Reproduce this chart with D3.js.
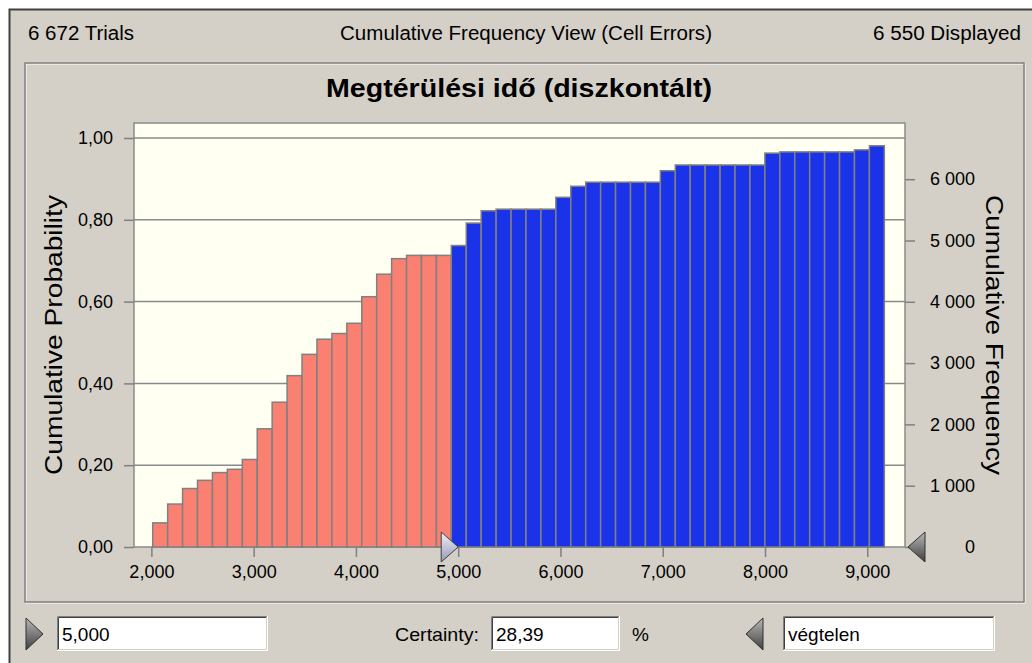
<!DOCTYPE html>
<meta charset="utf-8">
<style>
body { margin: 0; background: #fff; }
svg text { font-family: "Liberation Sans", Arial, sans-serif; fill: #000; }
.narrow { font-family: "Liberation Sans Narrow", "Arial Narrow", "Liberation Sans", sans-serif; font-size: 20px; }
.axis path.domain { display: none; }
.axis line { stroke: #808080; stroke-width: 1.5; }
.axis text { font-size: 18px; }
.bar { stroke: #808080; stroke-width: 1.5; }
.grid { stroke: #8a8a8a; stroke-width: 1.5; }
</style>
<svg width="1032" height="663"></svg>
<script src="https://d3js.org/d3.v7.min.js"></script>
<script>

// bin edges of the histogram (value axis)
var binEdges = [2013, 2159, 2305, 2451, 2597, 2743, 2889, 3035, 3181, 3327,
  3473, 3619, 3765, 3911, 4057, 4203, 4349, 4495, 4641, 4787,
  4933, 5079, 5225, 5371, 5517, 5663, 5809, 5955, 6101, 6247,
  6393, 6539, 6685, 6831, 6977, 7123, 7269, 7415, 7561, 7707,
  7853, 7999, 8145, 8291, 8437, 8583, 8729, 8875, 9021, 9167];

// cumulative probability per bin
var cumProb = [0.059, 0.105, 0.143, 0.163, 0.182, 0.190, 0.214, 0.289, 0.354, 0.419,
  0.471, 0.508, 0.522, 0.547, 0.612, 0.667, 0.705, 0.713, 0.713, 0.713,
  0.737, 0.792, 0.822, 0.826, 0.826, 0.826, 0.826, 0.855, 0.882, 0.892,
  0.892, 0.892, 0.892, 0.892, 0.920, 0.934, 0.934, 0.934, 0.934, 0.934,
  0.934, 0.963, 0.966, 0.966, 0.966, 0.966, 0.966, 0.971, 0.981];

var probTicks = [0, 0.2, 0.4, 0.6, 0.8, 1.0];
var freqTicks = [0, 1000, 2000, 3000, 4000, 5000, 6000];
var valueTicks = [2000, 3000, 4000, 5000, 6000, 7000, 8000, 9000];

var trials = 6672;
var displayed = 6550;
var cutoff = 5000;
var certainty = "28,39";
var upperText = "végtelen";

var svg = d3.select("svg");

var defs = svg.append("defs");
function grad(id, c1, c2) {
  var g = defs.append("linearGradient").attr("id", id)
      .attr("x1", 0).attr("y1", 0).attr("x2", 0).attr("y2", 1);
  g.append("stop").attr("offset", "0%").attr("stop-color", c1);
  g.append("stop").attr("offset", "100%").attr("stop-color", c2);
}
grad("gLav", "#f0f0fa", "#9898b8");
grad("gDark", "#b8b8b8", "#404040");

var spaced = function(n) { return d3.format(",")(n).replace(",", " "); };

// window background
svg.append("rect").attr("x", 9).attr("y", 9).attr("width", 1023).attr("height", 654).attr("fill", "#d4d0c8");
svg.append("path").attr("d", "M9.5,663V9.5H1032").attr("fill", "none").attr("stroke", "#404040").attr("stroke-width", 2);

// header texts
svg.append("text").attr("class", "narrow").attr("x", 28).attr("y", 40)
    .attr("textLength", 106).attr("lengthAdjust", "spacingAndGlyphs").text(spaced(trials) + " Trials");
svg.append("text").attr("class", "narrow").attr("x", 340).attr("y", 40)
    .attr("textLength", 372).attr("lengthAdjust", "spacingAndGlyphs").text("Cumulative Frequency View (Cell Errors)");
svg.append("text").attr("class", "narrow").attr("x", 873).attr("y", 40)
    .attr("textLength", 148).attr("lengthAdjust", "spacingAndGlyphs").text(spaced(displayed) + " Displayed");

// chart panel
svg.append("rect").attr("x", 26).attr("y", 64).attr("width", 999).attr("height", 539)
    .attr("fill", "none").attr("stroke", "#ffffff").attr("stroke-width", 1);
svg.append("rect").attr("x", 25).attr("y", 63).attr("width", 999).attr("height", 539)
    .attr("fill", "none").attr("stroke", "#808080").attr("stroke-width", 1.5);

svg.append("text").attr("x", 326).attr("y", 97)
    .attr("font-weight", "bold").attr("font-size", 25)
    .attr("textLength", 386).attr("lengthAdjust", "spacingAndGlyphs").text("Megtérülési idő (diszkontált)");

var x = d3.scaleLinear().domain([1830, 9369]).range([134, 905]);
var y = d3.scaleLinear().domain([0, 1]).range([547, 138]);
var yFreq = d3.scaleLinear().domain([0, trials]).range([547, 138]);

svg.append("rect").attr("x", 134).attr("y", 123).attr("width", 771).attr("height", 424)
    .attr("fill", "#fffff2").attr("stroke", "#8a8a8a").attr("stroke-width", 1.5);

svg.append("g").selectAll("line")
  .data(probTicks.slice(1))
  .enter().append("line")
    .attr("class", "grid")
    .attr("x1", 134).attr("x2", 905)
    .attr("y1", function(d) { return y(d); })
    .attr("y2", function(d) { return y(d); });

var bins = cumProb.map(function(p, i) { return {lo: binEdges[i], hi: binEdges[i + 1], p: p}; });

svg.append("g").selectAll("rect")
  .data(bins)
  .enter().append("rect")
    .attr("class", "bar")
    .attr("x", function(d) { return x(d.lo); })
    .attr("width", function(d) { return x(d.hi) - x(d.lo); })
    .attr("y", function(d) { return y(d.p); })
    .attr("height", function(d) { return y(0) - y(d.p); })
    .attr("fill", function(d) { return d.hi > cutoff ? "#1a32e8" : "#fa8072"; });

var commaFmt = d3.format(".2f");

svg.append("g").attr("class", "axis").attr("transform", "translate(134,0)")
    .call(d3.axisLeft(y).tickValues(probTicks).tickSize(10).tickPadding(11)
      .tickFormat(function(d) { return commaFmt(d).replace(".", ","); }));

var rAxis = svg.append("g").attr("class", "axis").attr("transform", "translate(905,0)")
    .call(d3.axisRight(yFreq).tickValues(freqTicks).tickSize(10).tickFormat(spaced));
rAxis.selectAll("text").attr("x", 70).attr("text-anchor", "end");

svg.append("g").attr("class", "axis").attr("transform", "translate(0,547)")
    .call(d3.axisBottom(x).tickValues(valueTicks).tickSize(10).tickPadding(8)
      .tickFormat(d3.format(",")));

svg.append("text").attr("transform", "translate(62,195) rotate(-90)")
    .attr("x", -280).attr("font-size", 23)
    .attr("textLength", 280).attr("lengthAdjust", "spacingAndGlyphs").text("Cumulative Probability");
svg.append("text").attr("transform", "translate(986,195) rotate(90)")
    .attr("font-size", 23)
    .attr("textLength", 280).attr("lengthAdjust", "spacingAndGlyphs").text("Cumulative Frequency");

// grabbers on the chart
var tx = x(cutoff);
svg.append("path").attr("d", "M" + tx + ",547L" + (tx - 17) + ",532L" + (tx - 17) + ",562Z")
    .attr("fill", "url(#gLav)").attr("stroke", "#404040").attr("stroke-width", 1);
svg.append("path").attr("d", "M908,547L925,532L925,562Z")
    .attr("fill", "url(#gDark)").attr("stroke", "#303030").attr("stroke-width", 1);

// bottom controls
function field(x0, x1, txt) {
  var g = svg.append("g");
  g.append("rect").attr("x", x0).attr("y", 616).attr("width", x1 - x0).attr("height", 35).attr("fill", "#fff");
  g.append("path").attr("d", "M" + (x0 + 0.5) + ",651V616.5H" + x1).attr("fill", "none").attr("stroke", "#808080");
  g.append("path").attr("d", "M" + (x0 + 1.5) + ",650V617.5H" + (x1 - 1)).attr("fill", "none").attr("stroke", "#404040");
  g.append("path").attr("d", "M" + x0 + "," + 650.5 + "H" + (x1 - 0.5) + "V616").attr("fill", "none").attr("stroke", "#ffffff");
  g.append("path").attr("d", "M" + (x0 + 1) + "," + 649.5 + "H" + (x1 - 1.5) + "V617").attr("fill", "none").attr("stroke", "#d4d0c8");
  g.append("text").attr("x", x0 + 5).attr("y", 641).attr("font-size", 19).text(txt);
}
svg.append("path").attr("d", "M43,634L26,618L26,650Z").attr("fill", "url(#gDark)").attr("stroke", "#303030");
field(57, 268, d3.format(",")(cutoff));
svg.append("text").attr("x", 395).attr("y", 641).attr("font-size", 19)
    .attr("textLength", 84).attr("lengthAdjust", "spacingAndGlyphs").text("Certainty:");
field(491, 620, certainty);
svg.append("text").attr("x", 632).attr("y", 641).attr("font-size", 19).text("%");
svg.append("path").attr("d", "M746,634L763,618L763,650Z").attr("fill", "url(#gDark)").attr("stroke", "#303030");
field(783, 995, upperText);

</script>
